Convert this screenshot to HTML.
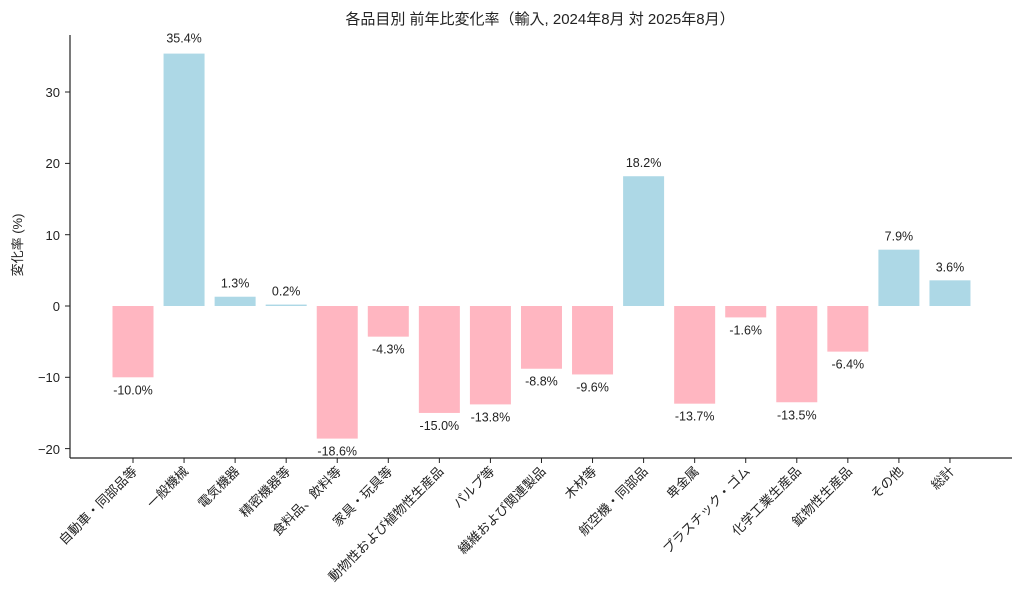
<!DOCTYPE html>
<html><head><meta charset="utf-8"><style>
body{margin:0;background:#fff;}
text{font-family:"Liberation Sans","Noto Sans CJK JP",sans-serif;fill:#222;}
</style></head><body>
<svg width="1024" height="609" xmlns="http://www.w3.org/2000/svg">
<text x="540" y="24" font-size="15" text-anchor="middle">各品目別 前年比変化率（輸入, 2024年8月 対 2025年8月）</text>
<g>
<rect x="112.5" y="306" width="41" height="71.3" fill="#ffb6c1"/>
<rect x="163.56" y="53.6" width="41" height="252.4" fill="#add8e6"/>
<rect x="214.62" y="296.73" width="41" height="9.27" fill="#add8e6"/>
<rect x="265.68" y="304.57" width="41" height="1.43" fill="#add8e6"/>
<rect x="316.74" y="306" width="41" height="132.6" fill="#ffb6c1"/>
<rect x="367.8" y="306" width="41" height="30.66" fill="#ffb6c1"/>
<rect x="418.86" y="306" width="41" height="106.95" fill="#ffb6c1"/>
<rect x="469.92" y="306" width="41" height="98.39" fill="#ffb6c1"/>
<rect x="520.98" y="306" width="41" height="62.74" fill="#ffb6c1"/>
<rect x="572.04" y="306" width="41" height="68.45" fill="#ffb6c1"/>
<rect x="623.1" y="176.23" width="41" height="129.77" fill="#add8e6"/>
<rect x="674.16" y="306" width="41" height="97.68" fill="#ffb6c1"/>
<rect x="725.22" y="306" width="41" height="11.41" fill="#ffb6c1"/>
<rect x="776.28" y="306" width="41" height="96.26" fill="#ffb6c1"/>
<rect x="827.34" y="306" width="41" height="45.63" fill="#ffb6c1"/>
<rect x="878.4" y="249.67" width="41" height="56.33" fill="#add8e6"/>
<rect x="929.46" y="280.33" width="41" height="25.67" fill="#add8e6"/>
</g>
<g font-size="12.5" text-anchor="middle">
<text x="133" y="394.3">-10.0%</text>
<text x="184.06" y="42.6">35.4%</text>
<text x="235.12" y="287.7">1.3%</text>
<text x="286.18" y="295.6">0.2%</text>
<text x="337.24" y="455.6">-18.6%</text>
<text x="388.3" y="353.7">-4.3%</text>
<text x="439.36" y="429.9">-15.0%</text>
<text x="490.42" y="421.4">-13.8%</text>
<text x="541.48" y="385.7">-8.8%</text>
<text x="592.54" y="391.4">-9.6%</text>
<text x="643.6" y="167.2">18.2%</text>
<text x="694.66" y="420.7">-13.7%</text>
<text x="745.72" y="334.4">-1.6%</text>
<text x="796.78" y="419.3">-13.5%</text>
<text x="847.84" y="368.6">-6.4%</text>
<text x="898.9" y="240.7">7.9%</text>
<text x="949.96" y="271.3">3.6%</text>
</g>
<line x1="70" y1="35" x2="70" y2="458" stroke="#222" stroke-width="1.2"/>
<line x1="70" y1="458" x2="1012" y2="458" stroke="#222" stroke-width="1.2"/>
<g font-size="13" text-anchor="end">
<text x="60" y="97">30</text><line x1="65" y1="92" x2="70" y2="92" stroke="#222"/>
<text x="60" y="168">20</text><line x1="65" y1="163.4" x2="70" y2="163.4" stroke="#222"/>
<text x="60" y="240">10</text><line x1="65" y1="234.7" x2="70" y2="234.7" stroke="#222"/>
<text x="60" y="311">0</text><line x1="65" y1="306" x2="70" y2="306" stroke="#222"/>
<text x="60" y="382">−10</text><line x1="65" y1="377.3" x2="70" y2="377.3" stroke="#222"/>
<text x="60" y="454">−20</text><line x1="65" y1="448.6" x2="70" y2="448.6" stroke="#222"/>
</g>
<text transform="translate(22,245) rotate(-90)" font-size="13" text-anchor="middle">変化率 (%)</text>
<g stroke="#222">
<line x1="133" y1="458" x2="133" y2="463"/><line x1="184.06" y1="458" x2="184.06" y2="463"/><line x1="235.12" y1="458" x2="235.12" y2="463"/><line x1="286.18" y1="458" x2="286.18" y2="463"/><line x1="337.24" y1="458" x2="337.24" y2="463"/><line x1="388.3" y1="458" x2="388.3" y2="463"/><line x1="439.36" y1="458" x2="439.36" y2="463"/><line x1="490.42" y1="458" x2="490.42" y2="463"/><line x1="541.48" y1="458" x2="541.48" y2="463"/><line x1="592.54" y1="458" x2="592.54" y2="463"/><line x1="643.6" y1="458" x2="643.6" y2="463"/><line x1="694.66" y1="458" x2="694.66" y2="463"/><line x1="745.72" y1="458" x2="745.72" y2="463"/><line x1="796.78" y1="458" x2="796.78" y2="463"/><line x1="847.84" y1="458" x2="847.84" y2="463"/><line x1="898.9" y1="458" x2="898.9" y2="463"/><line x1="949.96" y1="458" x2="949.96" y2="463"/>
</g>
<g font-size="13" text-anchor="end">
<text transform="translate(138,472) rotate(-45)">自動車・同部品等</text>
<text transform="translate(189.06,472) rotate(-45)">一般機械</text>
<text transform="translate(240.12,472) rotate(-45)">電気機器</text>
<text transform="translate(291.18,472) rotate(-45)">精密機器等</text>
<text transform="translate(342.24,472) rotate(-45)">食料品、飲料等</text>
<text transform="translate(393.3,472) rotate(-45)">家具・玩具等</text>
<text transform="translate(444.36,472) rotate(-45)">動物性および植物性生産品</text>
<text transform="translate(495.42,472) rotate(-45)">パルプ等</text>
<text transform="translate(546.48,472) rotate(-45)">繊維および関連製品</text>
<text transform="translate(597.54,472) rotate(-45)">木材等</text>
<text transform="translate(648.6,472) rotate(-45)">航空機・同部品</text>
<text transform="translate(699.66,472) rotate(-45)">卑金属</text>
<text transform="translate(750.72,472) rotate(-45)">プラスチック・ゴム</text>
<text transform="translate(801.78,472) rotate(-45)">化学工業生産品</text>
<text transform="translate(852.84,472) rotate(-45)">鉱物性生産品</text>
<text transform="translate(903.9,472) rotate(-45)">その他</text>
<text transform="translate(954.96,472) rotate(-45)">総計</text>
</g>
</svg>
</body></html>
